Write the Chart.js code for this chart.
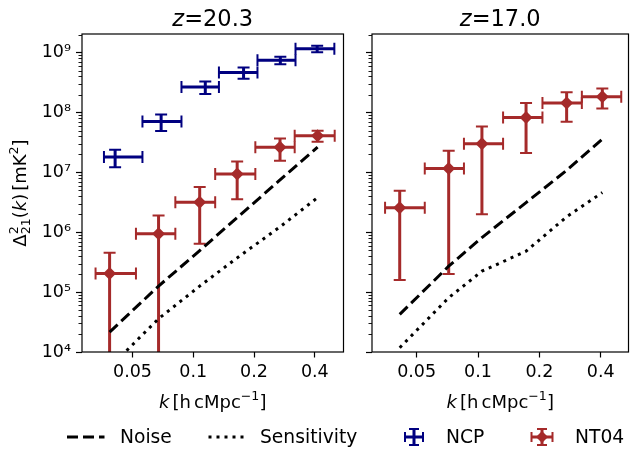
<!DOCTYPE html>
<html>
<head>
<meta charset="utf-8">
<title>21-cm power spectrum limits</title>
<script src="https://cdn.jsdelivr.net/npm/chart.js@4.4.1/dist/chart.umd.min.js"></script>
<style>
  html, body { margin: 0; padding: 0; background: #fff; }
  #fig { position: relative; width: 635px; height: 449px; overflow: hidden;
         font-family: "DejaVu Sans", sans-serif; color: #000; }
  #fig canvas { position: absolute; top: 0; }
  .lg { position: absolute; top: 427px; font-size: 18.7px; line-height: 20px; white-space: nowrap; }
</style>
</head>
<body>
<div id="fig">
  <canvas id="panel20" width="350" height="449" style="left:0"></canvas>
  <canvas id="panel17" width="285" height="449" style="left:350px"></canvas>
  <canvas id="legendMarks" width="635" height="30" style="left:0; top:420px"></canvas>
  <span class="lg" style="left:120px">Noise</span>
  <span class="lg" style="left:260px">Sensitivity</span>
  <span class="lg" style="left:446px">NCP</span>
  <span class="lg" style="left:575px">NT04</span>
</div>
<script>
// ---- axis ticks ----
const kTicks = [0.05, 0.1, 0.2, 0.4];
const kTickLabels = ['0.05', '0.1', '0.2', '0.4'];
const powerTicks = [1e4, 1e5, 1e6, 1e7, 1e8, 1e9];
const powerTickLabels = ['10⁴', '10⁵', '10⁶', '10⁷', '10⁸', '10⁹'];

// ---- z = 20.3 ----
const ncpK      = [0.041, 0.0693, 0.1147, 0.1775, 0.270, 0.411];
const ncpKLow   = [0.0361, 0.0560, 0.0874, 0.134, 0.208, 0.321];
const ncpKHigh  = [0.0560, 0.0874, 0.134, 0.208, 0.321, 0.500];
const ncpPower  = [1.8e7, 7.1e7, 2.66e8, 4.65e8, 7.5e8, 1.165e9];
const ncpErr    = [0.58e7, 2.2e7, 0.63e8, 1.0e8, 1.08e8, 0.145e9];

const nt04K_z20     = [0.0385, 0.0673, 0.1076, 0.165, 0.269, 0.413];
const nt04KLow_z20  = [0.0328, 0.0520, 0.0815, 0.1284, 0.203, 0.318];
const nt04KHigh_z20 = [0.0520, 0.0815, 0.1284, 0.203, 0.318, 0.502];
const nt04Power_z20 = [2.05e5, 9.4e5, 3.17e6, 9.4e6, 2.63e7, 4.1e7];
const nt04Err_z20   = [2.49e5, 9.6e5, 2.53e6, 5.85e6, 1.06e7, 0.85e7];

const noise_z20       = [2.15e4, 1.26e5, 4.95e5, 1.76e6, 7.47e6, 2.65e7];
const sensitivity_z20 = [5.5e3, 3.6e4, 1.26e5, 3.74e5, 1.23e6, 3.8e6];

// ---- z = 17.0 ----
const nt04K_z17     = [0.0413, 0.0718, 0.1045, 0.172, 0.272, 0.407];
const nt04KLow_z17  = [0.0350, 0.0548, 0.0853, 0.1327, 0.207, 0.323];
const nt04KHigh_z17 = [0.0548, 0.0853, 0.1327, 0.207, 0.323, 0.504];
const nt04Power_z17 = [2.56e6, 1.16e7, 3.02e7, 8.25e7, 1.445e8, 1.84e8];
const nt04Err_z17   = [2.4e6, 1.14e7, 2.82e7, 6.15e7, 7.45e7, 6.7e7];

const noise_z17       = [4.25e4, 2.71e5, 8.16e5, 3.13e6, 1.08e7, 3.6e7];
const sensitivity_z17 = [1.18e4, 8.07e4, 2.24e5, 4.82e5, 1.81e6, 4.6e6];

// ---- styling ----
const FAMILY = '"DejaVu Sans", sans-serif';
const RED = '#a52a2a';
const BLUE = '#000080';
const TICK_SIZE = 17.5;
const LABEL_SIZE = 18;
const TITLE_SIZE = 22.5;

function runFont(r, base) {
  const size = base * (r.scale || 1);
  return (r.italic ? 'italic ' : '') + size + 'px ' + FAMILY;
}

// Draws a row of text pieces (mixed italic / super- / subscripts) centred on x.
function drawRuns(ctx, runs, x, y, base) {
  const widths = runs.map(r => { ctx.font = runFont(r, base); return ctx.measureText(r.text).width; });
  const adv = runs.map((r, i) => r.overlay ? 0 : widths[i] + (r.gap || 0) * base);
  const total = adv.reduce((a, b) => a + b, 0);
  let cx = x - total / 2;
  ctx.textAlign = 'left';
  ctx.textBaseline = 'alphabetic';
  ctx.fillStyle = '#000';
  runs.forEach((r, i) => {
    ctx.font = runFont(r, base);
    ctx.fillText(r.text, cx, y - (r.rise || 0) * base);
    cx += adv[i];
  });
}

function drawCross(ctx, px, py, x0, x1, yTop, yBot, color, cap) {
  ctx.strokeStyle = color;
  ctx.lineCap = 'butt';
  ctx.setLineDash([]);
  ctx.lineWidth = 3;
  ctx.beginPath();
  ctx.moveTo(x0, py); ctx.lineTo(x1, py);
  ctx.moveTo(px, yTop); ctx.lineTo(px, yBot);
  ctx.stroke();
  ctx.lineWidth = 2;
  ctx.beginPath();
  ctx.moveTo(x0, py - cap); ctx.lineTo(x0, py + cap);
  ctx.moveTo(x1, py - cap); ctx.lineTo(x1, py + cap);
  ctx.moveTo(px - cap, yTop); ctx.lineTo(px + cap, yTop);
  ctx.moveTo(px - cap, yBot); ctx.lineTo(px + cap, yBot);
  ctx.stroke();
}

// Horizontal bin widths and vertical 1-sigma errors, placed with the chart's own scales.
const errorBars = {
  id: 'errorBars',
  beforeDatasetDraw(chart, args) {
    const ds = chart.data.datasets[args.index];
    if (!ds.errorBars) return;
    const { ctx, chartArea: a, scales: { x: xs, y: ys } } = chart;
    ctx.save();
    ctx.beginPath();
    ctx.rect(a.left, a.top, a.right - a.left, a.bottom - a.top);
    ctx.clip();
    ds.data.forEach(p => {
      const px = xs.getPixelForValue(p.x);
      const py = ys.getPixelForValue(p.y);
      const x0 = xs.getPixelForValue(p.xLow);
      const x1 = xs.getPixelForValue(p.xHigh);
      const yTop = ys.getPixelForValue(p.y + p.err);
      const low = p.y - p.err;
      const yBot = low > 0 ? ys.getPixelForValue(low) : a.bottom + 30;
      drawCross(ctx, px, py, x0, x1, yTop, yBot, ds.borderColor, 6);
    });
    ctx.restore();
  }
};

// Frame, minor ticks, panel title and axis titles.
const panelDecor = {
  id: 'panelDecor',
  afterDraw(chart, args, opts) {
    const { ctx, chartArea: a, scales: { y: ys } } = chart;
    ctx.save();
    // minor ticks on the power axis
    ctx.strokeStyle = '#000';
    ctx.lineWidth = 0.9;
    ctx.beginPath();
    for (let d = 1e4; d < 1e10; d *= 10) {
      for (let m = 2; m <= 9; m++) {
        const v = m * d;
        if (v < ys.min || v > ys.max) continue;
        const py = Math.round(ys.getPixelForValue(v)) + 0.5;
        ctx.moveTo(a.left - 3.5, py);
        ctx.lineTo(a.left, py);
      }
    }
    ctx.stroke();
    // axes frame
    ctx.lineWidth = 1.2;
    ctx.strokeRect(a.left, a.top, a.right - a.left, a.bottom - a.top);
    const cx = (a.left + a.right) / 2;
    drawRuns(ctx, opts.title, cx, 26, TITLE_SIZE);
    drawRuns(ctx, [
      { text: 'k', italic: true, gap: 0.17 },
      { text: '[h', gap: 0.17 },
      { text: 'cMpc' },
      { text: '−1', scale: 0.7, rise: 0.42 },
      { text: ']' }
    ], cx, 408, LABEL_SIZE);
    if (opts.yTitle) {
      ctx.translate(26, (a.top + a.bottom) / 2);
      ctx.rotate(-Math.PI / 2);
      drawRuns(ctx, [
        { text: 'Δ' },
        { text: '2', scale: 0.7, rise: 0.45, overlay: true },
        { text: '21', scale: 0.7, rise: -0.22 },
        { text: '(' },
        { text: 'k', italic: true },
        { text: ')', gap: 0.17 },
        { text: '[mK' },
        { text: '2', scale: 0.7, rise: 0.45 },
        { text: ']' }
      ], 0, 0, LABEL_SIZE);
    }
    ctx.restore();
  }
};

function points(k, v) { return k.map((x, i) => ({ x, y: v[i] })); }
function binned(k, lo, hi, v, e) {
  return k.map((x, i) => ({ x, y: v[i], xLow: lo[i], xHigh: hi[i], err: e[i] }));
}

function lineSet(label, data, dash) {
  return { label, data, showLine: true, borderColor: '#000', borderWidth: 3,
           borderDash: dash, borderCapStyle: 'butt', pointRadius: 0, fill: false,
           tension: 0, clip: 0 };
}

function buildPanel(id, cfg) {
  return new Chart(document.getElementById(id), {
    type: 'scatter',
    data: { datasets: cfg.datasets },
    options: {
      responsive: false,
      animation: false,
      devicePixelRatio: 1,
      layout: { padding: { left: 0, top: 34, right: cfg.padRight, bottom: 0 } },
      plugins: {
        legend: { display: false },
        tooltip: { enabled: false },
        panelDecor: { title: cfg.title, yTitle: cfg.yTitle }
      },
      scales: {
        x: {
          type: 'logarithmic', bounds: 'data', min: cfg.kMin, max: cfg.kMax,
          afterBuildTicks: s => { s.ticks = kTicks.map(v => ({ value: v })); },
          afterFit: s => { s.height = 97; },
          ticks: { callback: (v, i) => kTickLabels[i], color: '#000', padding: 4,
                   maxRotation: 0, autoSkip: false, font: { family: FAMILY, size: TICK_SIZE } },
          grid: { drawOnChartArea: false, drawTicks: true, tickLength: 5.5, tickWidth: 1.2, tickColor: '#000' },
          border: { display: false }
        },
        y: {
          type: 'logarithmic', bounds: 'data', min: 1e4, max: 2.05e9,
          afterBuildTicks: s => { s.ticks = powerTicks.map(v => ({ value: v })); },
          afterFit: s => { s.width = cfg.yWidth; },
          ticks: { display: cfg.showYLabels, callback: (v, i) => powerTickLabels[i], color: '#000',
                   padding: 5, font: { family: FAMILY, size: TICK_SIZE } },
          grid: { drawOnChartArea: false, drawTicks: true, tickLength: 6, tickWidth: 1.2, tickColor: '#000' },
          border: { display: false }
        }
      }
    },
    plugins: [errorBars, panelDecor]
  });
}

buildPanel('panel20', {
  title: [{ text: 'z', italic: true }, { text: '=20.3' }],
  yTitle: true, showYLabels: true, yWidth: 82, padRight: 4,
  kMin: 0.0281, kMax: 0.555,
  datasets: [
    lineSet('Noise', points(nt04K_z20, noise_z20), [11, 5]),
    lineSet('Sensitivity', points(nt04K_z20, sensitivity_z20), [3, 5]),
    { label: 'NCP', data: binned(ncpK, ncpKLow, ncpKHigh, ncpPower, ncpErr),
      errorBars: true, borderColor: BLUE, backgroundColor: BLUE, pointRadius: 0 },
    { label: 'NT04', data: binned(nt04K_z20, nt04KLow_z20, nt04KHigh_z20, nt04Power_z20, nt04Err_z20),
      errorBars: true, borderColor: RED, backgroundColor: RED, pointStyle: 'rectRot',
      pointRadius: 6.5, borderWidth: 0 }
  ]
});

buildPanel('panel17', {
  title: [{ text: 'z', italic: true }, { text: '=17.0' }],
  yTitle: false, showYLabels: false, yWidth: 22, padRight: 1,
  kMin: 0.0302, kMax: 0.547,
  datasets: [
    lineSet('Noise', points(nt04K_z17, noise_z17), [11, 5]),
    lineSet('Sensitivity', points(nt04K_z17, sensitivity_z17), [3, 5]),
    { label: 'NT04', data: binned(nt04K_z17, nt04KLow_z17, nt04KHigh_z17, nt04Power_z17, nt04Err_z17),
      errorBars: true, borderColor: RED, backgroundColor: RED, pointStyle: 'rectRot',
      pointRadius: 6.5, borderWidth: 0 }
  ]
});

// Legend handles
(function () {
  const ctx = document.getElementById('legendMarks').getContext('2d');
  const cy = 17;
  ctx.strokeStyle = '#000';
  ctx.lineWidth = 3;
  ctx.lineCap = 'butt';
  ctx.setLineDash([11, 5]);
  ctx.beginPath(); ctx.moveTo(67, cy); ctx.lineTo(104.5, cy); ctx.stroke();
  ctx.setLineDash([3, 5]);
  ctx.beginPath(); ctx.moveTo(208.5, cy); ctx.lineTo(245, cy); ctx.stroke();
  drawCross(ctx, 414, cy, 405, 423, cy - 8, cy + 8, BLUE, 5);
  drawCross(ctx, 542, cy, 531.5, 552.5, cy - 8, cy + 8, RED, 5);
  ctx.fillStyle = RED;
  ctx.beginPath();
  ctx.moveTo(542 - 6, cy); ctx.lineTo(542, cy - 6); ctx.lineTo(542 + 6, cy); ctx.lineTo(542, cy + 6);
  ctx.closePath(); ctx.fill();
})();
</script>
</body>
</html>
